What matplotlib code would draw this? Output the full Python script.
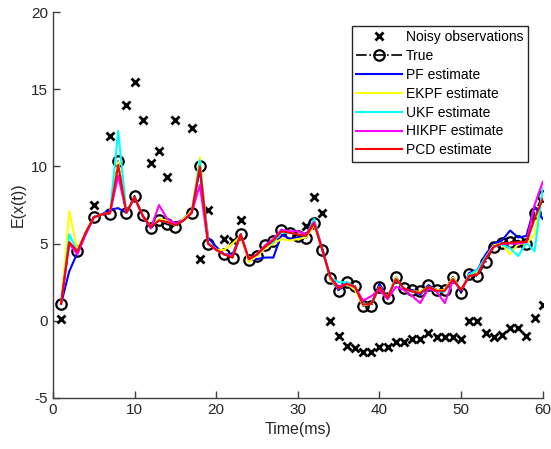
import numpy as np
import matplotlib
matplotlib.use('Agg')
import matplotlib.pyplot as plt

plt.rcParams['font.family'] = ['Liberation Sans', 'DejaVu Sans']
plt.rcParams['axes.unicode_minus'] = False

# time steps
t = np.arange(1, 61)
nan = np.nan

# noisy observations (nan where hidden / not visible)
obs = [0.1, nan, nan, nan, 7.5, nan, 12.0, nan, 14.0, 15.5,
       13.0, 10.2, 11.0, 9.3, 13.0, nan, 12.5, 4.0, 7.2, nan,
       5.3, 5.15, 6.5, nan, nan, nan, nan, nan, nan, nan,
       6.15, 8.0, 7.0, 0.0, -1.0, -1.6, -1.75, -2.05, -2.05, -1.7,
       -1.7, -1.35, -1.35, -1.2, -1.15, -0.8, -1.05, -1.05, -1.05, -1.15,
       0.0, 0.0, -0.8, -1.05, -0.95, -0.45, -0.45, -1.0, 0.2, 1.0]

true = [1.1, 5.0, 4.5, 5.7, 6.75, 6.85, 6.95, 10.35, 7.0, 8.1,
        6.85, 6.0, 6.5, 6.25, 6.1, 6.5, 7.0, 10.0, 5.0, 4.6,
        4.3, 4.1, 5.6, 3.95, 4.2, 4.9, 5.15, 5.9, 5.7, 5.5,
        5.35, 6.35, 4.6, 2.75, 1.95, 2.5, 2.25, 0.97, 0.97, 2.2,
        1.45, 2.85, 2.1, 1.97, 1.9, 2.3, 2.0, 2.0, 2.85, 1.8,
        3.05, 2.9, 3.8, 4.8, 5.05, 5.1, 5.2, 4.95, 7.0, 8.1]
# time steps where the true-value circles are visible
true_marks = [i for i in range(60) if i + 1 not in (2, 4, 6, 16, 20)]

pf = [1.1, 3.2, 4.4, 5.6, 6.7, 6.9, 7.2, 7.3, 7.0, 8.0,
      6.8, 6.0, 6.6, 6.4, 6.3, 6.6, 7.1, 9.8, 5.4, 4.8,
      4.3, 4.3, 5.6, 3.9, 4.0, 4.1, 4.1, 5.6, 5.3, 5.4,
      5.4, 6.4, 4.7, 2.7, 2.0, 2.4, 2.1, 1.0, 1.1, 2.4,
      1.5, 2.8, 2.0, 2.0, 1.7, 2.3, 2.0, 2.0, 2.8, 1.9,
      3.1, 3.3, 4.3, 5.0, 5.2, 5.85, 5.4, 5.5, 7.4, 6.6]

ekpf = [1.1, 7.1, 4.6, 5.7, 6.7, 6.9, 7.0, 10.3, 7.0, 8.0,
        6.8, 6.1, 6.6, 6.5, 6.2, 6.6, 7.1, 10.6, 5.1, 4.6,
        4.6, 5.0, 5.5, 3.8, 4.2, 4.7, 5.0, 5.3, 5.2, 5.3,
        5.4, 6.2, 4.6, 2.7, 2.1, 2.4, 2.0, 1.0, 1.1, 2.2,
        1.5, 2.8, 2.0, 1.9, 1.9, 2.2, 2.0, 2.0, 2.8, 2.0,
        3.0, 3.2, 4.1, 4.9, 5.0, 4.3, 5.0, 5.0, 5.6, 8.3]

ukf = [1.1, 5.6, 4.5, 5.7, 6.7, 6.9, 7.0, 12.3, 7.0, 8.0,
       6.8, 6.1, 6.5, 6.4, 6.2, 6.5, 7.0, 10.4, 5.1, 4.6,
       4.3, 4.2, 5.6, 4.0, 4.3, 4.8, 5.1, 5.7, 5.7, 5.6,
       5.5, 6.6, 4.6, 2.8, 2.5, 2.5, 2.2, 1.1, 1.1, 2.2,
       1.5, 2.7, 2.0, 1.9, 1.8, 2.2, 1.9, 1.9, 2.7, 2.0,
       3.0, 3.3, 4.1, 4.8, 4.95, 4.7, 4.2, 5.05, 4.5, 8.6]

hikpf = [1.1, 5.0, 4.3, 5.6, 6.7, 6.9, 7.0, 9.4, 7.0, 8.0,
         6.8, 6.0, 7.5, 6.6, 6.3, 6.5, 7.0, 8.8, 5.0, 4.6,
         4.3, 4.2, 5.6, 4.0, 4.3, 4.9, 5.3, 5.9, 5.8, 5.8,
         5.6, 6.4, 4.6, 2.8, 2.2, 2.4, 2.2, 1.3, 1.6, 2.0,
         1.4, 2.2, 2.0, 1.6, 1.15, 2.1, 1.9, 1.15, 2.6, 2.0,
         2.9, 3.0, 4.0, 4.8, 5.0, 5.0, 5.0, 5.1, 7.5, 9.0]

pcd = [1.1, 5.1, 4.5, 5.7, 6.7, 6.9, 7.0, 10.1, 7.0, 8.0,
       6.8, 6.1, 6.5, 6.4, 6.2, 6.5, 7.0, 10.0, 5.0, 4.6,
       4.3, 4.1, 5.6, 4.0, 4.3, 4.8, 5.2, 5.8, 5.7, 5.6,
       5.5, 6.3, 4.6, 2.8, 2.1, 2.4, 2.2, 1.05, 1.1, 2.2,
       1.5, 2.7, 2.1, 1.9, 1.8, 2.2, 1.95, 1.95, 2.7, 2.0,
       2.9, 3.0, 4.0, 4.8, 5.0, 5.05, 5.1, 5.1, 6.6, 7.9]

fig = plt.figure(figsize=(5.51, 4.49), dpi=100)
ax = fig.add_axes([0.096, 0.1136, 0.889, 0.8594])

ax.plot(t, obs, 'kx', ms=5.5, mew=2, label='Noisy observations')
ax.plot(t, true, 'k-.', marker='o', ms=7.5, mew=1.6, mfc='none',
        markevery=true_marks, lw=1.2, label='True')
ax.plot(t, pf, color=(0, 0, 1), lw=1.5, label='PF estimate')
ax.plot(t, ekpf, color=(1, 1, 0), lw=1.5, label='EKPF estimate')
ax.plot(t, ukf, color=(0, 1, 1), lw=1.5, label='UKF estimate')
ax.plot(t, hikpf, color=(1, 0, 1), lw=1.5, label='HIKPF estimate')
ax.plot(t, pcd, color=(1, 0, 0), lw=1.5, label='PCD estimate')

ax.set_xlim(0, 60)
ax.set_ylim(-5, 20)
ax.set_xticks(np.arange(0, 61, 10))
ax.set_yticks(np.arange(-5, 21, 5))
ax.spines['top'].set_visible(False)
ax.spines['right'].set_visible(False)
for s in ('left', 'bottom'):
    ax.spines[s].set_color('#404040')
    ax.spines[s].set_linewidth(1.0)
ax.tick_params(direction='in', length=5, width=1, colors='#404040',
               labelcolor='#262626', labelsize=11)
ax.set_xlabel('Time(ms)', fontsize=11.5, color='#262626')
ax.set_ylabel('E(x(t))', fontsize=11.5, color='#262626')

leg = ax.legend(loc='upper right', bbox_to_anchor=(0.969, 0.964),
                fontsize=10, frameon=True, fancybox=False, framealpha=1,
                edgecolor='#262626', handlelength=3.3, handletextpad=0.3,
                labelspacing=0.35, borderpad=0.3, borderaxespad=0)
leg.get_frame().set_linewidth(1.0)

plt.savefig('out.png', dpi=100)
plt.close()
